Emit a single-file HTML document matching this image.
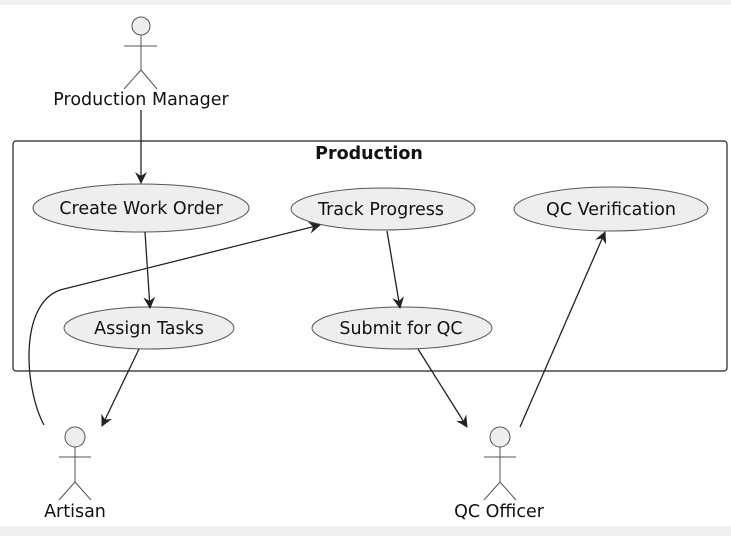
<!DOCTYPE html>
<html><head><meta charset="utf-8"><style>
html,body{margin:0;padding:0;background:#fff;}
svg{display:block;}
text{font-family:"DejaVu Sans","Liberation Sans",sans-serif;fill:#111;}
</style></head><body>
<svg width="731" height="536" viewBox="0 0 731 536" xmlns="http://www.w3.org/2000/svg">
<defs><marker id="a" viewBox="0 0 12 12" refX="11" refY="6" markerWidth="12" markerHeight="12" markerUnits="userSpaceOnUse" orient="auto"><path d="M0,0 L12,6 L0,12 L4,6 Z" fill="#222"/></marker></defs>
<rect x="0" y="0" width="731" height="536" fill="#fff"/>
<rect x="0" y="0" width="731" height="5" fill="#f0f0f0"/>
<rect x="0" y="526" width="731" height="10" fill="#f0f0f0"/>
<rect x="13" y="141" width="714" height="230" rx="3" fill="none" stroke="#222" stroke-width="1.2"/>
<text x="369" y="159" font-size="17.5" font-weight="bold" text-anchor="middle">Production</text>
<g fill="#eee" stroke="#555" stroke-width="1">
<ellipse cx="141" cy="208" rx="108" ry="24"/>
<ellipse cx="383" cy="209" rx="92" ry="21"/>
<ellipse cx="611" cy="209" rx="97" ry="22"/>
<ellipse cx="149" cy="328" rx="85" ry="21"/>
<ellipse cx="402" cy="328" rx="90" ry="21"/>
</g>
<g font-size="17.5" text-anchor="middle">
<text x="141" y="214">Create Work Order</text>
<text x="381" y="215">Track Progress</text>
<text x="611" y="215">QC Verification</text>
<text x="149" y="334">Assign Tasks</text>
<text x="401" y="334">Submit for QC</text>
<text x="141" y="105">Production Manager</text>
<text x="75" y="517">Artisan</text>
<text x="499" y="517">QC Officer</text>
</g>
<g fill="none" stroke="#555" stroke-width="1">
<circle cx="141" cy="26" r="9" fill="#eee"/>
<path d="M141,35 V70 M124,46 H157 M141,70 L124,89 M141,70 L157,89"/>
<circle cx="75" cy="437" r="10" fill="#eee"/>
<path d="M75,447 V482 M59,457 H91 M75,482 L59,500 M75,482 L91,500"/>
<circle cx="500" cy="437" r="10" fill="#eee"/>
<path d="M500,447 V482 M484,457 H516 M500,482 L484,500 M500,482 L516,500"/>
</g>
<g fill="none" stroke="#222" stroke-width="1.3" marker-end="url(#a)">
<path d="M141,110 L141,183"/>
<path d="M145,232 L150,308"/>
<path d="M387,231 L400,308"/>
<path d="M139,349 L102,426"/>
<path d="M418,349 L467,427"/>
<path d="M520,427 L605,232"/>
<path d="M44,425 C25,390 18,305 60,290 L320,225"/>
</g>
</svg>
</body></html>
